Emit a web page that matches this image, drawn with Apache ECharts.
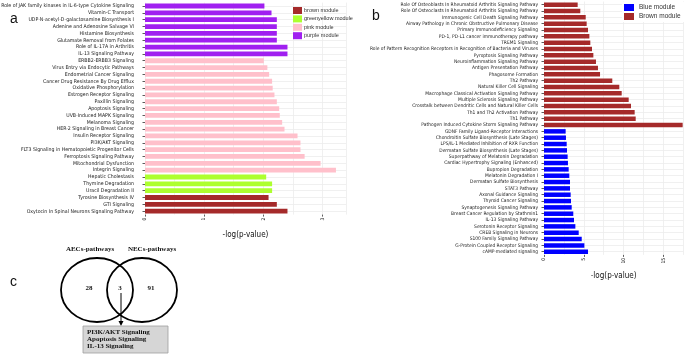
<!DOCTYPE html>
<html><head><meta charset="utf-8">
<script src="https://cdn.jsdelivr.net/npm/echarts@6/dist/echarts.min.js"></script>
<style>html,body{margin:0;padding:0;background:#fff}#c{width:685px;height:354px}</style>
</head><body><div id="c"></div>
<script>
const catsA = [
 "Role of JAK family kinases in IL-6-type Cytokine Signaling","Vitamin-C Transport","UDP-N-acetyl-D-galactosamine Biosynthesis I","Adenine and Adenosine Salvage VI","Histamine Biosynthesis","Glutamate Removal from Folates","Role of IL-17A in Arthritis","IL-13 Signaling Pathway",
 "ERBB2-ERBB3 Signaling","Virus Entry via Endocytic Pathways","Endometrial Cancer Signaling","Cancer Drug Resistance By Drug Efflux","Oxidative Phosphorylation","Estrogen Receptor Signaling","Paxillin Signaling","Apoptosis Signaling","UVB-Induced MAPK Signaling","Melanoma Signaling","HER-2 Signaling in Breast Cancer","Insulin Receptor Signaling","PI3K/AKT Signaling","FLT3 Signaling in Hematopoietic Progenitor Cells","Ferroptosis Signaling Pathway","Mitochondrial Dysfunction","Integrin Signaling",
 "Hepatic Cholestasis","Thymine Degradation","Uracil Degradation II",
 "Tyrosine Biosynthesis IV","GTI Signaling","Oxytocin In Spinal Neurons Signaling Pathway"];
const valsA = [2.02,2.14,2.23,2.23,2.23,2.23,2.41,2.41,
 2.01,2.07,2.10,2.15,2.16,2.19,2.23,2.27,2.28,2.32,2.36,2.58,2.63,2.63,2.70,2.97,3.23,
 2.05,2.15,2.15,
 2.09,2.23,2.41];
const moduleA = ["purple","purple","purple","purple","purple","purple","purple","purple",
 "pink","pink","pink","pink","pink","pink","pink","pink","pink","pink","pink","pink","pink","pink","pink","pink","pink",
 "greenyellow","greenyellow","greenyellow",
 "brown","brown","brown"];
const modulesA = ["brown","greenyellow","pink","purple"];
const colorsA = {brown:"#A52A2A",greenyellow:"#ADFF2F",pink:"#FFC0CB",purple:"#A020F0"};
const ticksA = [0,1,2,3];

const catsB = [
 "Role Of Osteoblasts In Rheumatoid Arthritis Signaling Pathway","Role Of Osteoclasts In Rheumatoid Arthritis Signaling Pathway","Immunogenic Cell Death Signaling Pathway","Airway Pathology in Chronic Obstructive Pulmonary Disease","Primary Immunodeficiency Signaling","PD-1, PD-L1 cancer immunotherapy pathway","TREM1 Signaling","Role of Pattern Recognition Receptors in Recognition of Bacteria and Viruses","Pyroptosis Signaling Pathway","Neuroinflammation Signaling Pathway","Antigen Presentation Pathway","Phagosome Formation","Th2 Pathway","Natural Killer Cell Signaling","Macrophage Classical Activation Signaling Pathway","Multiple Sclerosis Signaling Pathway","Crosstalk between Dendritic Cells and Natural Killer Cells","Th1 and Th2 Activation Pathway","Th1 Pathway","Pathogen Induced Cytokine Storm Signaling Pathway",
 "GDNF Family Ligand-Receptor Interactions","Chondroitin Sulfate Biosynthesis (Late Stages)","LPS/IL-1 Mediated Inhibition of RXR Function","Dermatan Sulfate Biosynthesis (Late Stages)","Superpathway of Melatonin Degradation","Cardiac Hypertrophy Signaling (Enhanced)","Bupropion Degradation","Melatonin Degradation I","Dermatan Sulfate Biosynthesis","STAT3 Pathway","Axonal Guidance Signaling","Thyroid Cancer Signaling","Synaptogenesis Signaling Pathway","Breast Cancer Regulation by Stathmin1","IL-13 Signaling Pathway","Serotonin Receptor Signaling","CREB Signaling in Neurons","S100 Family Signaling Pathway","G-Protein Coupled Receptor Signaling","cAMP-mediated signaling"];
const valsB = [4.23,4.56,5.24,5.36,5.53,5.70,5.82,6.03,6.20,6.53,6.78,7.04,8.58,9.46,9.76,10.64,10.93,11.39,11.52,17.42,
 2.72,2.76,2.85,2.89,2.97,3.01,3.10,3.18,3.27,3.27,3.35,3.39,3.48,3.68,3.77,3.94,4.36,4.74,5.07,5.53];
const moduleB = catsB.map((c,i)=> i<20 ? "Brown" : "Blue");
const modulesB = ["Blue","Brown"];
const colorsB = {Blue:"#0000FF",Brown:"#A52A2A"};
const ticksB = [0,5,10,15];

const vennCounts = {aecsOnly:28, shared:3, necsOnly:91};
const vennSets = ["AECs-pathways","NECs-pathways"];
const sharedPathways = ["PI3K/AKT Signaling","Apoptosis Signaling","IL-13 Signaling"];

const LF = "'Liberation Sans Narrow','DejaVu Sans Condensed',Arial,sans-serif";
const SERIF = "'Liberation Serif','Times New Roman',serif";

const chart = echarts.init(document.getElementById('c'));

function seriesFor(mods, mod, vals, colors, suffix, axisIdx, bw){
  return mods.map(m=>({
    name: m + suffix, type:'bar', stack:'s'+axisIdx,
    xAxisIndex: axisIdx*2, yAxisIndex: axisIdx,
    barWidth: bw,
    itemStyle:{color: colors[m]},
    data: vals.map((v,i)=> mod[i]===m ? v : null),
    silent:true, animation:false
  }));
}

const yBase = (cats, off, fs)=>({
  type:'category', data:cats, inverse:true, offset:off,
  axisLine:{show:false},
  axisTick:{show:true, length:2.5, alignWithLabel:true, lineStyle:{color:'#333',width:0.8}},
  axisLabel:{fontFamily:LF, fontSize:fs, color:'#1a1a1a', margin:2, interval:0},
  splitLine:{show:true, alignWithLabel:true, lineStyle:{color:'#ececec',width:0.8}}
});

const option = {
  backgroundColor:'#fff',
  animation:false,
  grid:[
    {left:145, width:201, top:2.6, height:212, outerBoundsMode:'none', containLabel:false},
    {left:544, width:139.3, top:1.5, height:253.4, outerBoundsMode:'none', containLabel:false}
  ],
  legend:[
    {data:modulesA.map(m=>m+' module'), orient:'vertical', left:288, top:2,
     itemWidth:9, itemHeight:7, itemGap:1.4, icon:'rect',
     textStyle:{fontFamily:'Arial', fontSize:5.5, color:'#333', padding:[0,0,0,-3]}},
    {data:modulesB.map(m=>m+' module'), orient:'vertical', left:622, top:2,
     itemWidth:10, itemHeight:7, itemGap:2, icon:'rect', backgroundColor:'#fff',
     padding:[2,8,2,2],
     textStyle:{fontFamily:'Arial', fontSize:6.5, color:'#333'}}
  ],
  xAxis:[
    {gridIndex:0, type:'value', min:0, max:3.4, interval:1,
     axisLine:{show:false}, axisTick:{show:true,length:2,lineStyle:{color:'#333',width:0.8}},
     axisLabel:{rotate:90, fontSize:5, fontFamily:LF, color:'#222', margin:3, showMaxLabel:false,
       formatter:v=> ticksA.includes(v) ? String(v) : ''},
     splitLine:{show:false},
     name:'-log(p-value)', nameLocation:'middle', nameGap:16,
     nameTextStyle:{fontFamily:LF, fontSize:8, color:'#111'}},
    {gridIndex:0, type:'value', min:0, max:3.4, interval:0.5,
     axisLine:{show:false}, axisTick:{show:false}, axisLabel:{show:false},
     splitLine:{show:true, lineStyle:{color:'#ececec',width:0.8}}},
    {gridIndex:1, type:'value', min:0, max:17.5, interval:5,
     axisLine:{show:false}, axisTick:{show:true,length:2,lineStyle:{color:'#333',width:0.8}},
     axisLabel:{rotate:90, fontSize:5, fontFamily:LF, color:'#222', margin:3, showMaxLabel:false,
       formatter:v=> ticksB.includes(v) ? String(v) : ''},
     splitLine:{show:false},
     name:'-log(p-value)', nameLocation:'middle', nameGap:17,
     nameTextStyle:{fontFamily:LF, fontSize:8, color:'#111'}},
    {gridIndex:1, type:'value', min:0, max:17.5, interval:2.5,
     axisLine:{show:false}, axisTick:{show:false}, axisLabel:{show:false},
     splitLine:{show:true, lineStyle:{color:'#ececec',width:0.8}}}
  ],
  yAxis:[
    Object.assign({gridIndex:0}, yBase(catsA, 9, 5.2)),
    Object.assign({gridIndex:1}, yBase(catsB, 4, 4.9))
  ],
  series:[
    ...seriesFor(modulesA, moduleA, valsA, colorsA, ' module', 0, 4.8),
    ...seriesFor(modulesB, moduleB, valsB, colorsB, ' module', 1, 4.5)
  ],
  graphic:[
    {type:'text', left:10, top:12, style:{text:'a', fontFamily:'Arial', fontSize:14, fill:'#111'}},
    {type:'text', left:372, top:9, style:{text:'b', fontFamily:'Arial', fontSize:14, fill:'#111'}},
    {type:'text', left:10, top:275, style:{text:'c', fontFamily:'Arial', fontSize:14, fill:'#111'}},
    {type:'text', x:90, y:249, style:{text:vennSets[0], fontFamily:SERIF, fontWeight:'bold', fontSize:7, fill:'#111', align:'center', verticalAlign:'middle'}},
    {type:'text', x:152, y:249, style:{text:vennSets[1], fontFamily:SERIF, fontWeight:'bold', fontSize:7, fill:'#111', align:'center', verticalAlign:'middle'}},
    {type:'ellipse', shape:{cx:97, cy:290, rx:36, ry:32}, style:{fill:'none', stroke:'#000', lineWidth:1.8}},
    {type:'ellipse', shape:{cx:142, cy:290, rx:35, ry:32}, style:{fill:'none', stroke:'#000', lineWidth:1.8}},
    {type:'text', x:89, y:288, style:{text:String(vennCounts.aecsOnly), fontFamily:SERIF, fontWeight:'bold', fontSize:7, fill:'#111', align:'center', verticalAlign:'middle'}},
    {type:'text', x:120, y:288, style:{text:String(vennCounts.shared), fontFamily:SERIF, fontWeight:'bold', fontSize:7, fill:'#111', align:'center', verticalAlign:'middle'}},
    {type:'text', x:151, y:288, style:{text:String(vennCounts.necsOnly), fontFamily:SERIF, fontWeight:'bold', fontSize:7, fill:'#111', align:'center', verticalAlign:'middle'}},
    {type:'line', shape:{x1:121, y1:293, x2:121, y2:322}, style:{stroke:'#000', lineWidth:1}},
    {type:'polygon', shape:{points:[[118.5,321],[123.5,321],[121,326]]}, style:{fill:'#000'}},
    {type:'rect', shape:{x:83, y:326, width:85, height:27}, style:{fill:'#d6d6d6', stroke:'#a0a0a0', lineWidth:0.8}},
    {type:'text', x:87, y:332.5, style:{text:sharedPathways[0], fontFamily:SERIF, fontWeight:'bold', fontSize:7, fill:'#111', verticalAlign:'middle'}},
    {type:'text', x:87, y:339.5, style:{text:sharedPathways[1], fontFamily:SERIF, fontWeight:'bold', fontSize:7, fill:'#111', verticalAlign:'middle'}},
    {type:'text', x:87, y:346.5, style:{text:sharedPathways[2], fontFamily:SERIF, fontWeight:'bold', fontSize:7, fill:'#111', verticalAlign:'middle'}}
  ]
};
chart.setOption(option);
</script></body></html>
